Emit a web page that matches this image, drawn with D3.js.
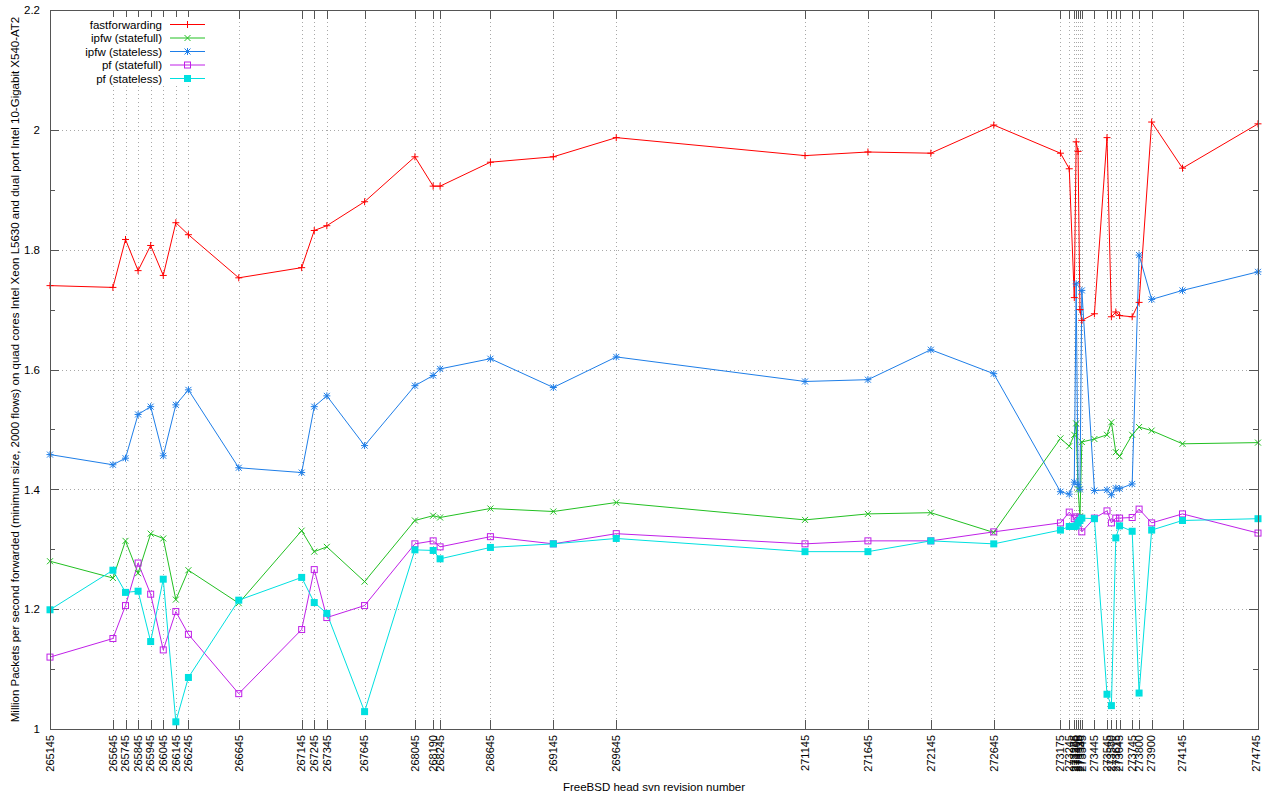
<!DOCTYPE html>
<html>
<head>
<meta charset="utf-8">
<script src="https://cdn.jsdelivr.net/npm/d3@7"></script>
<style>
  html, body { margin: 0; padding: 0; background: #fff; }
  svg text { font-family: "Liberation Sans", Arial, sans-serif; fill: #000; }
</style>
</head>
<body>
<svg id="chart" width="1263" height="795"></svg>
<script>
// svn revisions benchmarked (also used as x tick labels)
const revisions = [
  265145, 265645, 265745, 265845, 265945, 266045, 266145, 266245, 266645,
  267145, 267245, 267345, 267645, 268045, 268190, 268245, 268645, 269145,
  269645, 271145, 271645, 272145, 272645, 273175, 273245, 273285, 273300,
  273315, 273330, 273345, 273445, 273545, 273580, 273615, 273645, 273745,
  273800, 273900, 274145, 274745
];

// Mpps forwarded, one value per revision
const fastforwarding = [
  1.740, 1.737, 1.817, 1.765, 1.807, 1.757, 1.845, 1.825, 1.753,
  1.770, 1.832, 1.840, 1.880, 1.955, 1.906, 1.906, 1.946, 1.955,
  1.987, 1.957, 1.963, 1.961, 2.008, 1.961, 1.935, 1.720, 1.980,
  1.964, 1.700, 1.682, 1.693, 1.987, 1.688, 1.696, 1.690, 1.688,
  1.712, 2.013, 1.936, 2.010
];
const ipfwStatefull = [
  1.280, 1.252, 1.314, 1.260, 1.326, 1.318, 1.216, 1.265, 1.210,
  1.331, 1.296, 1.304, 1.246, 1.348, 1.356, 1.353, 1.368, 1.363,
  1.378, 1.349, 1.359, 1.361, 1.328, 1.485, 1.472, 1.491, 1.510,
  1.400, 1.355, 1.479, 1.484, 1.491, 1.512, 1.462, 1.455, 1.491,
  1.504, 1.498, 1.476, 1.478
];
const ipfwStateless = [
  1.458, 1.441, 1.452, 1.525, 1.538, 1.456, 1.541, 1.566, 1.436,
  1.428, 1.538, 1.556, 1.473, 1.573, 1.590, 1.601, 1.618, 1.570,
  1.621, 1.580, 1.583, 1.633, 1.593, 1.396, 1.392, 1.412, 1.743,
  1.408, 1.400, 1.732, 1.398, 1.399, 1.391, 1.402, 1.401, 1.409,
  1.791, 1.717, 1.732, 1.763
];
const pfStatefull = [
  1.120, 1.151, 1.206, 1.277, 1.225, 1.132, 1.196, 1.158, 1.059,
  1.166, 1.266, 1.186, 1.206, 1.309, 1.314, 1.304, 1.321, 1.309,
  1.326, 1.309, 1.314, 1.314, 1.329, 1.344, 1.362, 1.351, 1.354,
  1.348, 1.352, 1.329, 1.352, 1.364, 1.344, 1.352, 1.352, 1.353,
  1.367, 1.344, 1.359, 1.327
];
const pfStateless = [
  1.199, 1.265, 1.228, 1.230, 1.146, 1.250, 1.012, 1.086, 1.215,
  1.253, 1.211, 1.193, 1.029, 1.299, 1.298, 1.284, 1.303, 1.309,
  1.318, 1.296, 1.296, 1.314, 1.309, 1.332, 1.338, 1.338, 1.339,
  1.344, 1.348, 1.352, 1.351, 1.058, 1.039, 1.319, 1.339, 1.330,
  1.060, 1.332, 1.348, 1.351
];

const yTicks = [1, 1.2, 1.4, 1.6, 1.8, 2, 2.2];
const yGrid = [1.2, 1.4, 1.6, 1.8, 2];
const yMinor = [1.1, 1.3, 1.5, 1.7, 1.9, 2.1];

const seriesNames = ["fastforwarding", "ipfw (statefull)", "ipfw (stateless)", "pf (statefull)", "pf (stateless)"];
const seriesValues = [fastforwarding, ipfwStatefull, ipfwStateless, pfStatefull, pfStateless];
const seriesColors = ["#ff0000", "#22c022", "#1e7ee8", "#c020e8", "#00e0e0"];
const seriesMarkers = ["plus", "cross", "star", "box", "fbox"];

const yTitle = "Million Packets per second  forwarded (minimum size, 2000 flows) on quad cores Intel Xeon L5630 and dual port Intel 10-Gigabit X540-AT2";
const xTitle = "FreeBSD head svn revision number";

const svg = d3.select("#chart");
const L = 50, R = 1258, T = 10, B = 729;

const x = d3.scaleLinear().domain([265145, 274745]).range([L, R]);
const y = d3.scaleLinear().domain([1, 2.2]).range([B, T]);

const gridStyle = g => g.attr("stroke", "#a8a8a8").attr("stroke-width", 1).attr("stroke-dasharray", "1,3");

// vertical grid at every revision
svg.append("g").call(gridStyle)
  .selectAll("line").data(revisions).join("line")
  .attr("x1", d => Math.round(x(d)) + 0.5).attr("x2", d => Math.round(x(d)) + 0.5)
  .attr("y1", T).attr("y2", B);

// horizontal grid
svg.append("g").call(gridStyle)
  .selectAll("line").data(yGrid).join("line")
  .attr("x1", L).attr("x2", R)
  .attr("y1", d => Math.round(y(d)) + 0.5).attr("y2", d => Math.round(y(d)) + 0.5);

// bottom axis: rotated revision labels
const xBottom = d3.axisBottom(x).tickValues(revisions).tickSize(0).tickPadding(0).tickFormat(d3.format("d"));
const gxb = svg.append("g").attr("transform", `translate(0,${B})`).call(xBottom);
gxb.select(".domain").remove();
gxb.selectAll("text")
  .attr("font-size", 11)
  .attr("text-anchor", "end")
  .attr("dy", "0.3em")
  .attr("transform", "translate(0,6) rotate(-90)");

// tick marks on all four edges
const tickG = svg.append("g").attr("stroke", "#555").attr("stroke-width", 1);
tickG.selectAll("line.xb").data(revisions).join("line").attr("class", "xb")
  .attr("x1", d => Math.round(x(d)) + 0.5).attr("x2", d => Math.round(x(d)) + 0.5)
  .attr("y1", B).attr("y2", B - 9);
tickG.selectAll("line.xt").data(revisions).join("line").attr("class", "xt")
  .attr("x1", d => Math.round(x(d)) + 0.5).attr("x2", d => Math.round(x(d)) + 0.5)
  .attr("y1", T).attr("y2", T + 9);
tickG.selectAll("line.yl").data(yTicks).join("line").attr("class", "yl")
  .attr("x1", L).attr("x2", L + 9)
  .attr("y1", d => Math.round(y(d)) + 0.5).attr("y2", d => Math.round(y(d)) + 0.5);
tickG.selectAll("line.yr").data(yTicks).join("line").attr("class", "yr")
  .attr("x1", R - 9).attr("x2", R)
  .attr("y1", d => Math.round(y(d)) + 0.5).attr("y2", d => Math.round(y(d)) + 0.5);
tickG.selectAll("line.yml").data(yMinor).join("line").attr("class", "yml")
  .attr("x1", L).attr("x2", L + 5)
  .attr("y1", d => Math.round(y(d)) + 0.5).attr("y2", d => Math.round(y(d)) + 0.5);
tickG.selectAll("line.ymr").data(yMinor).join("line").attr("class", "ymr")
  .attr("x1", R - 5).attr("x2", R)
  .attr("y1", d => Math.round(y(d)) + 0.5).attr("y2", d => Math.round(y(d)) + 0.5);

// left axis labels
const yAxis = d3.axisLeft(y).tickValues(yTicks).tickSize(0).tickPadding(10).tickFormat(d3.format("~g"));
const gy = svg.append("g").attr("transform", `translate(${L},0)`).call(yAxis);
gy.select(".domain").remove();
gy.selectAll("text").attr("font-size", 11.5);

// legend (opaque box over the grid)
const legend = svg.append("g");
legend.append("rect").attr("x", L + 1).attr("y", 17).attr("width", 160).attr("height", 68).attr("fill", "#fff");

// series lines
const line = d3.line().x((d, i) => x(revisions[i])).y(d => y(d));
seriesValues.forEach((vals, k) => {
  svg.append("path").datum(vals)
    .attr("fill", "none").attr("stroke", seriesColors[k]).attr("stroke-width", 1)
    .attr("d", line);
});

function drawMarker(g, kind, color, cx, cy) {
  const s = 3.5;
  if (kind === "plus") {
    g.append("path").attr("d", `M${cx - s},${cy}H${cx + s}M${cx},${cy - s}V${cy + s}`).attr("stroke", color).attr("fill", "none");
  } else if (kind === "cross") {
    g.append("path").attr("d", `M${cx - 3},${cy - 3}L${cx + 3},${cy + 3}M${cx - 3},${cy + 3}L${cx + 3},${cy - 3}`).attr("stroke", color).attr("fill", "none");
  } else if (kind === "star") {
    g.append("path").attr("d", `M${cx - s},${cy}H${cx + s}M${cx},${cy - s}V${cy + s}M${cx - 3},${cy - 3}L${cx + 3},${cy + 3}M${cx - 3},${cy + 3}L${cx + 3},${cy - 3}`).attr("stroke", color).attr("fill", "none");
  } else if (kind === "box") {
    g.append("rect").attr("x", cx - 3).attr("y", cy - 3).attr("width", 6).attr("height", 6).attr("stroke", color).attr("fill", "none");
  } else {
    g.append("rect").attr("x", cx - 3.5).attr("y", cy - 3.5).attr("width", 7).attr("height", 7).attr("fill", color);
  }
}

seriesValues.forEach((vals, k) => {
  const g = svg.append("g");
  vals.forEach((v, i) => drawMarker(g, seriesMarkers[k], seriesColors[k], x(revisions[i]), y(v)));
});

// legend entries
const legendY = [24.5, 38, 51.5, 65, 78.5];
seriesNames.forEach((name, k) => {
  legend.append("text").attr("x", 162).attr("y", legendY[k]).attr("dy", "0.35em")
    .attr("text-anchor", "end").attr("font-size", 11.5).text(name);
  legend.append("line").attr("x1", 170).attr("x2", 205).attr("y1", legendY[k]).attr("y2", legendY[k])
    .attr("stroke", seriesColors[k]);
  drawMarker(legend, seriesMarkers[k], seriesColors[k], 187.5, legendY[k]);
});
legend.raise();

// frame
svg.append("rect").attr("x", L + 0.5).attr("y", T + 0.5).attr("width", R - L).attr("height", B - T)
  .attr("fill", "none").attr("stroke", "#555");

// keep the last revision label inside the page
gxb.selectAll(".tick").filter(d => d === revisions[revisions.length - 1])
  .select("text").attr("transform", "translate(-1.5,6) rotate(-90)");

// axis titles
svg.append("text").attr("transform", `translate(19,${(T + B) / 2}) rotate(-90)`)
  .attr("text-anchor", "middle").attr("font-size", 11.5).text(yTitle);
svg.append("text").attr("x", (L + R) / 2).attr("y", 791)
  .attr("text-anchor", "middle").attr("font-size", 11.5).text(xTitle);
</script>
</body>
</html>
